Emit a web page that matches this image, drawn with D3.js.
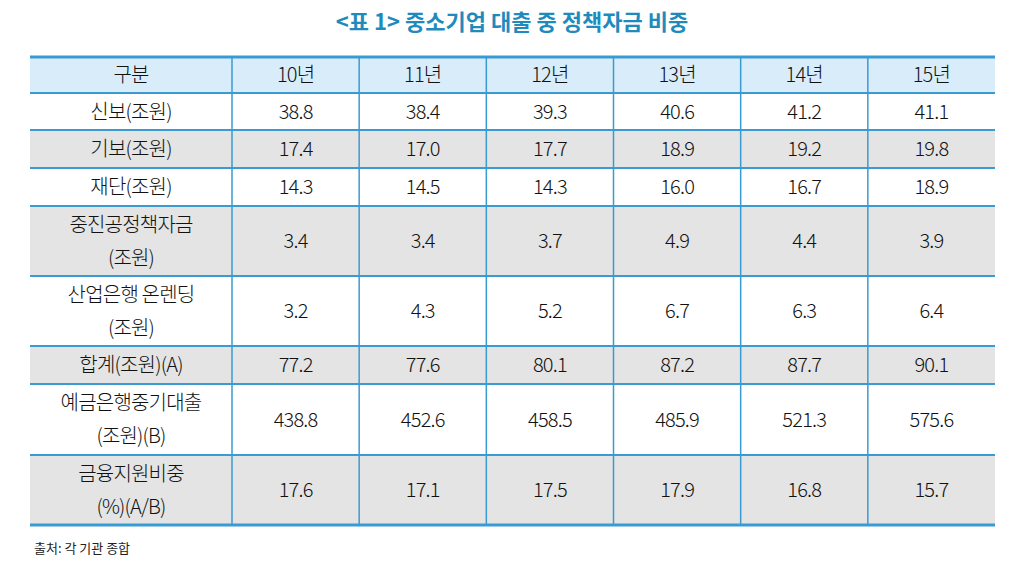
<!DOCTYPE html>
<html><head><meta charset="utf-8">
<script src="https://cdn.jsdelivr.net/npm/d3@7"></script>
<style>body{margin:0;background:#fff}</style>
</head><body><svg id="c" width="1024" height="571"></svg>
<script>
var years = ["10년", "11년", "12년", "13년", "14년", "15년"];
var rowLabels = [["신보(조원)"], ["기보(조원)"], ["재단(조원)"], ["중진공정책자금", "(조원)"], ["산업은행 온렌딩", "(조원)"], ["합계(조원)(A)"], ["예금은행중기대출", "(조원)(B)"], ["금융지원비중", "(%)(A/B)"]];
var values = [
    [38.8, 38.4, 39.3, 40.6, 41.2, 41.1],
    [17.4, 17.0, 17.7, 18.9, 19.2, 19.8],
    [14.3, 14.5, 14.3, 16.0, 16.7, 18.9],
    [3.4, 3.4, 3.7, 4.9, 4.4, 3.9],
    [3.2, 4.3, 5.2, 6.7, 6.3, 6.4],
    [77.2, 77.6, 80.1, 87.2, 87.7, 90.1],
    [438.8, 452.6, 458.5, 485.9, 521.3, 575.6],
    [17.6, 17.1, 17.5, 17.9, 16.8, 15.7]
];
var rowEdges = [57, 93, 130, 168, 206, 276, 346, 384, 455, 525];
var grayRows = [1, 3, 5, 7];

var svg = d3.select("#c");
var font = "'Noto Sans CJK KR', sans-serif";
var blue = "#3a9ad4";
var colX = d3.scaleLinear().domain([0, 6]).range([232, 995]);
var left = 30;

svg.append("text").attr("x", 512).attr("y", 30).attr("text-anchor", "middle")
    .style("font-family", font).style("font-size", "22px").style("font-weight", "bold")
    .attr("fill", "#1f8bbd").text("<표 1> 중소기업 대출 중 정책자금 비중");

// header fill
svg.append("rect").attr("x", left).attr("y", rowEdges[0]).attr("width", 995 - left)
    .attr("height", rowEdges[1] - rowEdges[0]).attr("fill", "#d8edf9");
grayRows.forEach(function (r) {
    svg.append("rect").attr("x", left).attr("y", rowEdges[r + 1]).attr("width", 995 - left)
        .attr("height", rowEdges[r + 2] - rowEdges[r + 1]).attr("fill", "#e4e4e4");
});

// grid lines
rowEdges.forEach(function (y, i) {
    svg.append("line").attr("x1", left).attr("x2", 995).attr("y1", y).attr("y2", y)
        .attr("stroke", blue).attr("stroke-width", (i === 0 || i === rowEdges.length - 1) ? 3 : 2);
});
d3.range(0, 6).forEach(function (i) {
    svg.append("line").attr("x1", colX(i)).attr("x2", colX(i)).attr("y1", rowEdges[0]).attr("y2", rowEdges[rowEdges.length - 1])
        .attr("stroke", blue).attr("stroke-width", 1.5);
});

function cell(x, y0, y1, lines) {
    var mid = (y0 + y1) / 2, lh = 33;
    lines.forEach(function (t, k) {
        svg.append("text").attr("x", x).attr("y", mid + (k - (lines.length - 1) / 2) * lh + 7)
            .attr("text-anchor", "middle").style("font-family", font).style("font-size", "20px")
            .style("font-weight", 300).attr("fill", "#111").attr("letter-spacing", "-0.8").text(t);
    });
}

cell((left + colX(0)) / 2, rowEdges[0], rowEdges[1], ["구분"]);
years.forEach(function (y, i) { cell(colX(i + 0.5), rowEdges[0], rowEdges[1], [y]); });
rowLabels.forEach(function (lab, r) {
    cell((left + colX(0)) / 2, rowEdges[r + 1], rowEdges[r + 2], lab);
    values[r].forEach(function (v, i) {
        cell(colX(i + 0.5), rowEdges[r + 1], rowEdges[r + 2], [v.toFixed(1)]);
    });
});

svg.append("text").attr("x", 34).attr("y", 553).style("font-family", font).style("font-size", "13px")
    .attr("fill", "#222").text("출처: 각 기관 종합");
</script></body></html>
